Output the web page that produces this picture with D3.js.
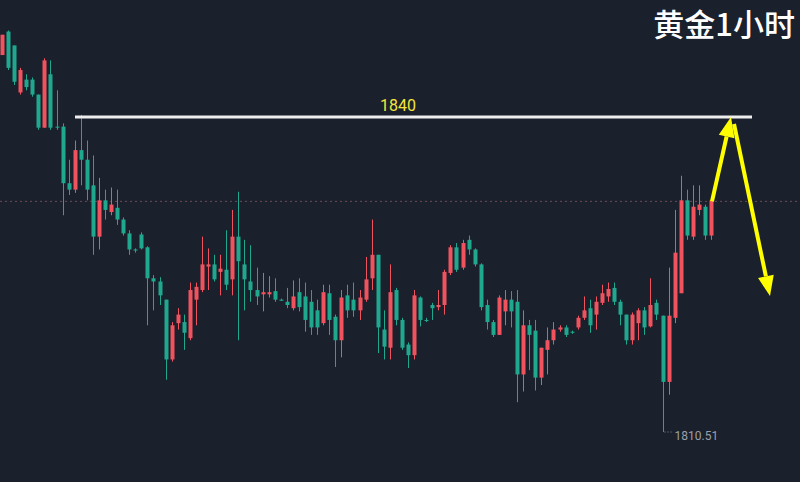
<!DOCTYPE html>
<html><head><meta charset="utf-8">
<script src="https://cdn.jsdelivr.net/npm/d3@7"></script>
<style>body{margin:0;background:#1b202d;}svg{display:block;}</style></head>
<body><svg id="c" width="800" height="482"></svg>
<script>
const open=[1845.8,1848.0,1846.7,1842.3,1843.5,1843.5,1842.1,1839.0,1844.0,1839.1,1839.1,1833.8,1833.2,1836.9,1836.0,1833.6,1828.8,1832.2,1831.1,1831.5,1830.4,1829.1,1827.6,1829.0,1827.8,1824.9,1824.6,1822.9,1817.3,1820.7,1820.8,1819.3,1822.9,1823.8,1826.0,1826.2,1825.5,1825.7,1824.8,1828.8,1826.2,1824.6,1823.8,1823.4,1823.4,1823.7,1822.9,1822.7,1822.1,1823.6,1823.2,1822.7,1821.9,1820.7,1823.5,1821.3,1819.1,1823.3,1822.9,1821.9,1822.9,1824.9,1827.1,1820.1,1818.4,1823.8,1821.0,1818.7,1817.7,1823.1,1821.0,1822.4,1822.2,1822.4,1825.4,1827.8,1825.9,1828.5,1827.6,1826.2,1822.4,1820.8,1819.6,1821.8,1822.9,1822.7,1815.9,1820.5,1820.0,1815.6,1818.2,1819.1,1820.1,1820.3,1819.9,1820.3,1821.2,1822.1,1821.5,1822.6,1823.2,1824.0,1822.7,1821.5,1819.1,1820.7,1821.9,1820.4,1822.6,1821.4,1815.2,1821.2,1823.5,1832.2,1828.8,1831.3,1831.6,1828.9];
const high=[1847.7,1848.1,1846.7,1844.6,1844.0,1843.7,1842.1,1845.5,1845.3,1842.5,1839.4,1836.0,1837.8,1840.2,1837.8,1836.4,1834.3,1833.2,1833.4,1833.2,1830.6,1829.4,1827.7,1829.2,1827.9,1825.2,1825.0,1822.9,1820.8,1822.1,1821.5,1824.5,1824.5,1828.8,1827.7,1827.1,1827.1,1829.4,1831.3,1833.0,1828.5,1828.0,1825.9,1825.4,1825.1,1824.9,1823.0,1824.0,1824.7,1824.9,1824.5,1823.8,1822.9,1824.3,1824.3,1821.5,1823.8,1824.3,1824.5,1823.8,1826.9,1830.4,1827.1,1821.9,1826.2,1824.0,1821.2,1818.9,1823.8,1823.2,1821.2,1822.6,1823.8,1825.7,1828.0,1828.2,1828.5,1828.9,1827.7,1826.3,1822.9,1821.0,1823.3,1823.8,1823.7,1823.8,1821.9,1821.0,1821.0,1818.4,1820.3,1820.8,1820.5,1820.5,1820.0,1821.4,1823.2,1822.9,1823.2,1824.3,1824.5,1824.5,1822.9,1821.5,1821.7,1822.1,1822.2,1824.9,1822.9,1821.4,1825.9,1831.3,1834.5,1833.2,1833.6,1833.6,1831.8,1832.6];
const low=[1845.8,1844.4,1843.0,1842.1,1842.5,1841.9,1838.8,1839.0,1838.8,1838.8,1830.8,1832.7,1832.9,1833.6,1832.2,1827.1,1827.6,1830.4,1830.8,1829.9,1828.9,1827.1,1827.3,1827.6,1820.5,1821.9,1822.4,1815.4,1817.1,1820.1,1818.2,1819.1,1820.5,1823.6,1823.8,1824.6,1823.3,1823.8,1823.3,1819.1,1821.9,1822.7,1822.4,1821.8,1823.1,1822.7,1822.8,1822.1,1821.9,1821.8,1819.9,1819.6,1819.6,1820.5,1819.6,1816.6,1817.5,1821.2,1821.3,1821.0,1822.7,1823.8,1817.9,1817.3,1817.3,1820.5,1818.2,1816.5,1817.3,1820.4,1820.8,1821.0,1821.9,1821.5,1825.2,1825.5,1825.7,1827.1,1826.0,1821.9,1820.1,1819.4,1819.6,1820.5,1820.3,1813.3,1814.3,1816.3,1814.4,1814.9,1815.9,1818.7,1819.9,1819.4,1819.7,1820.1,1821.0,1819.8,1820.1,1822.4,1822.7,1822.4,1820.5,1818.7,1818.7,1819.1,1819.6,1820.3,1821.0,1810.51,1814.0,1820.7,1823.5,1828.5,1828.5,1830.8,1828.5,1828.5];
const close=[1847.7,1844.6,1843.3,1844.4,1842.8,1842.1,1839.0,1845.3,1839.0,1839.0,1833.8,1833.2,1836.9,1836.0,1833.2,1828.8,1832.2,1831.3,1831.8,1830.4,1829.1,1827.6,1827.5,1827.7,1824.9,1824.6,1823.3,1817.3,1820.5,1821.5,1819.8,1823.8,1824.1,1826.2,1826.2,1824.8,1825.8,1824.3,1828.8,1826.5,1824.8,1823.8,1823.2,1823.6,1823.6,1822.9,1822.8,1822.4,1823.2,1822.2,1821.0,1820.3,1820.3,1823.6,1821.0,1819.1,1823.1,1821.9,1821.9,1823.1,1824.8,1827.1,1820.3,1818.5,1823.6,1821.0,1818.4,1817.7,1823.3,1821.0,1820.9,1822.1,1822.4,1825.5,1827.8,1825.7,1828.2,1827.6,1826.2,1822.2,1820.8,1819.6,1823.1,1822.9,1821.8,1815.9,1820.5,1819.6,1815.6,1818.4,1819.1,1820.1,1820.3,1819.6,1819.8,1821.2,1821.9,1820.5,1822.7,1823.5,1823.9,1822.7,1821.5,1819.1,1821.5,1821.9,1820.3,1822.4,1821.5,1815.2,1821.4,1827.3,1832.2,1828.9,1831.6,1831.8,1828.9,1832.2];
const levelPrice=1840, lastPrice=1832.1, lowLabel="1810.51", title="黄金1小时";

const svg=d3.select("#c");
svg.append("rect").attr("width",800).attr("height",482).attr("fill","#1b202d");
const x=d3.scaleLinear().domain([0,open.length-1]).range([2,711]);
const y=d3.scaleLinear().domain([1810.51,1840]).range([432,117]);
const up="#f0525e", dn="#1fa88e";
svg.append("line").attr("x1",0).attr("x2",800).attr("y1",y(lastPrice)).attr("y2",y(lastPrice))
 .attr("stroke","#6b4b55").attr("stroke-dasharray","2,3").attr("stroke-width",1);
const g=svg.append("g");
open.forEach((o,i)=>{
  const c=close[i], col=c>=o?up:dn, cx=Math.round(x(i))+0.5;
  g.append("line").attr("x1",cx).attr("x2",cx).attr("y1",y(high[i])).attr("y2",y(low[i])).attr("stroke",col).attr("stroke-width",1);
  const t=y(Math.max(o,c)), b=y(Math.min(o,c));
  g.append("rect").attr("x",cx-2).attr("width",4).attr("y",t).attr("height",Math.max(1,b-t)).attr("fill",col);
});
svg.append("line").attr("x1",75).attr("x2",752).attr("y1",y(levelPrice)).attr("y2",y(levelPrice)).attr("stroke","#eeeeee").attr("stroke-width",3);
svg.append("text").attr("x",398).attr("y",y(levelPrice)-6).attr("text-anchor","middle").attr("fill","#f2e63a")
 .attr("font-family","Roboto, Arial").attr("font-size",16).text(String(levelPrice));
const li=low.indexOf(d3.min(low));
svg.append("line").attr("x1",x(li)+2).attr("x2",x(li)+10).attr("y1",y(low[li])).attr("y2",y(low[li])).attr("stroke","#888").attr("stroke-dasharray","1,2");
svg.append("text").attr("x",x(li)+12).attr("y",y(low[li])+8).attr("fill","#9aa0aa").attr("font-family","Roboto, Arial").attr("font-size",12).text(lowLabel);
svg.append("text").attr("x",795).attr("y",36).attr("text-anchor","end").attr("fill","#ffffff")
 .attr("font-family","Noto Sans CJK SC").attr("font-weight","500").attr("font-size",31).text(title);
const yel="#ffff00";
function arrow(x1,y1,x2,y2){
  const a=Math.atan2(y2-y1,x2-x1), L=20, W=8;
  const bx=x2-L*Math.cos(a), by=y2-L*Math.sin(a);
  svg.append("line").attr("x1",x1).attr("y1",y1).attr("x2",bx).attr("y2",by).attr("stroke",yel).attr("stroke-width",4);
  const px=-Math.sin(a)*W, py=Math.cos(a)*W;
  svg.append("path").attr("d",`M${x2},${y2}L${bx+px},${by+py}L${bx-px},${by-py}Z`).attr("fill",yel);
}
arrow(712,y(lastPrice),731,117);
arrow(734,124,770,296);
</script></body></html>
